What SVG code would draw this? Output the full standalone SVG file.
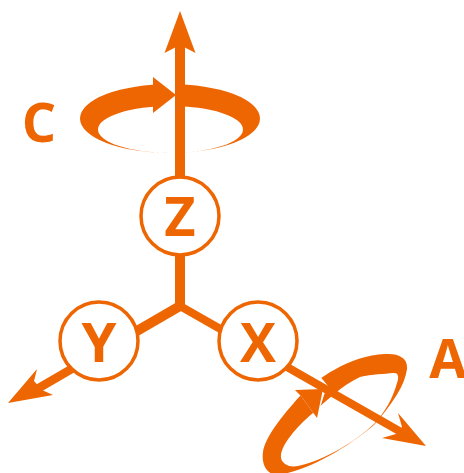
<svg xmlns="http://www.w3.org/2000/svg" width="464" height="473" viewBox="0 0 464 473">
<style>
.o{fill:#ee6602}
.w{fill:#fff}
.l{fill:#ee6602;font-family:"Open Sans","Liberation Sans",sans-serif;font-weight:700;font-size:54px;text-anchor:middle}
.n{fill:#fff;stroke:#ee6602;stroke-width:3.5}
.s{stroke:#ee6602;fill:none}
</style>
<rect width="464" height="473" fill="#fff"/>
<g id="connectors">
<path id="ring-c" class="o" fill-rule="evenodd" d="M80 118.500a90 34.500 0 1 0 180 0a90 34.500 0 1 0-180 0ZM98 129.500a72.500 23.500 0 1 0 145 0a72.500 23.500 0 1 0-145 0Z"/>
<rect class="w" x="153" y="76" width="30" height="39"/>
<path class="o" d="M153 77L176 95L153 113Z"/>
<path class="s" stroke-width="10" d="M180 45V180"/>
<path class="o" d="M180 11L195.500 53L180 45L164.500 53Z"/>
<path class="s" stroke-width="10" d="M180 250V306"/>
<path class="s" stroke-width="10" d="M180 306L99 353"/>
<path class="s" stroke-width="8.500" d="M99 353L32 392"/>
<path class="o" d="M8 403L37 369L34 381L42 390L53 395Z"/>
<path id="ring-a" class="o" fill-rule="evenodd" d="M385 354C399 353 408 358 407 369C405 385 393 403 374 425C350 445 315 468 279 475C268 476 261 465 263 452C265 438 280 418 300 396C315 380 350 355 385 354ZM393 373C399 372 399 378 397 383C393 398 385 412 374 424C355 442 325 460 298 466C288 468 280 463 281 455C282 445 295 428 313 413C325 402 342 385 360 377C372 374 385 374 393 373Z"/>
<path class="w" d="M295 386L319 375L328 386L324 395L317 418L301 396Z"/>
<path class="o" d="M323 389L295 390L301 396L317 418Z"/>
<path class="s" stroke-width="8" d="M180 306L408 436"/>
<path class="o" d="M426 446L398 413L402 427L396 434L382 438Z"/>
</g>
<g id="node-z"><circle class="n" cx="180" cy="216" r="39"/><text class="l" x="180" y="236">Z</text></g>
<g id="node-y"><circle class="n" cx="99" cy="341" r="39"/><text class="l" x="99" y="362" textLength="35" lengthAdjust="spacingAndGlyphs">Y</text></g>
<g id="node-x"><circle class="n" cx="258" cy="341" r="39"/><text class="l" x="258" y="362" textLength="36" lengthAdjust="spacingAndGlyphs">X</text></g>
<text id="label-c" class="l" x="39" y="142">C</text>
<text id="label-a" class="l" x="448" y="378">A</text>
</svg>
